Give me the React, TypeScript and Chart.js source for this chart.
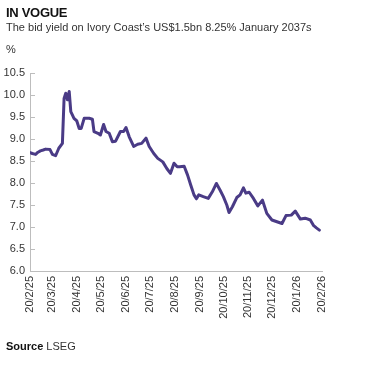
import React, { useEffect, useRef } from "react";
import { Chart, registerables } from "chart.js";

Chart.register(...registerables);

// days since 20 Feb 2025
const days = [
  0, 3, 7, 10, 13, 16.5, 19.6, 25, 28, 32, 36, 40.5, 42.6, 44.7, 46.8, 49, 51, 55, 58.5, 61.5, 64,
  67.7, 74, 78, 80, 85, 88, 92, 95, 99, 103, 107, 113, 117, 120, 124, 129.6, 134.6, 139.6, 145, 149,
  154.7, 159.7, 166, 171, 175.6, 180, 184, 187, 192.7, 197, 201, 205, 208, 211, 216.6, 222.8, 227.9,
  233, 237.5, 241.7, 246, 248.8, 253, 258.5, 262.6, 266.8, 269.8, 274, 279.3, 284.8, 290.6, 296,
  302.4, 308.7, 315, 320, 326.6, 331.6, 338, 344, 350.4, 354.6, 358, 361.7,
];
const yields = [
  8.69, 8.67, 8.65, 8.7, 8.73, 8.75, 8.77, 8.76, 8.65, 8.62, 8.79, 8.9, 9.92, 10.04, 9.89, 10.08,
  9.62, 9.47, 9.41, 9.24, 9.24, 9.47, 9.47, 9.45, 9.17, 9.13, 9.09, 9.33, 9.17, 9.13, 8.94, 8.95,
  9.17, 9.17, 9.26, 9.05, 8.83, 8.88, 8.9, 9.02, 8.83, 8.67, 8.56, 8.48, 8.33, 8.22, 8.45, 8.37, 8.37,
  8.38, 8.18, 7.95, 7.73, 7.64, 7.73, 7.69, 7.65, 7.8, 7.99, 7.84, 7.69, 7.5, 7.33, 7.46, 7.67, 7.73,
  7.89, 7.77, 7.79, 7.65, 7.48, 7.61, 7.31, 7.16, 7.12, 7.08, 7.26, 7.27, 7.36, 7.18, 7.2, 7.16, 7.03,
  6.98, 6.93,
];
const tickDays = [0, 28, 59, 89, 120, 150, 181, 212, 242, 273, 303, 334, 365];
const tickLabels = [
  "20/2/25", "20/3/25", "20/4/25", "20/5/25", "20/6/25", "20/7/25", "20/8/25",
  "20/9/25", "20/10/25", "20/11/25", "20/12/25", "20/1/26", "20/2/26",
];
const yTicks = [6.0, 6.5, 7.0, 7.5, 8.0, 8.5, 9.0, 9.5, 10.0, 10.5];

const FONT = "'Liberation Sans', Arial, sans-serif";
const LINE = "#4a3b86";
const AXIS = "#bdbdbd";
const TEXT = "#333333";

const innerTicks = {
  id: "innerTicks",
  afterDraw(chart: any) {
    const { ctx, chartArea } = chart;
    const y = chart.scales.y;
    ctx.save();
    ctx.strokeStyle = AXIS;
    ctx.lineWidth = 1;
    yTicks.forEach((v) => {
      const py = Math.round(y.getPixelForValue(v)) + 0.5;
      ctx.beginPath();
      ctx.moveTo(chartArea.left, py);
      ctx.lineTo(chartArea.left + 5, py);
      ctx.stroke();
    });
    ctx.restore();
  },
};

export default function App() {
  const ref = useRef<HTMLCanvasElement | null>(null);
  useEffect(() => {
    if (!ref.current) return;
    const chart = new Chart(ref.current, {
      type: "line",
      data: {
        datasets: [
          {
            data: days.map((d, i) => ({ x: d, y: yields[i] })),
            borderColor: LINE,
            borderWidth: 3,
            pointRadius: 0,
            tension: 0,
            borderJoinStyle: "round",
            borderCapStyle: "round",
          },
        ],
      },
      options: {
        animation: false,
        responsive: false,
        maintainAspectRatio: false,
        layout: { padding: { top: 73, right: 54, left: 0, bottom: 0 } },
        plugins: { legend: { display: false }, tooltip: { enabled: false } },
        scales: {
          x: {
            type: "linear",
            min: 0,
            max: 365,
            afterBuildTicks: (s: any) => {
              s.ticks = tickDays.map((v) => ({ value: v }));
            },
            afterFit: (s: any) => {
              s.height = 98;
            },
            ticks: {
              autoSkip: false,
              minRotation: 90,
              maxRotation: 90,
              padding: 5,
              color: TEXT,
              font: { family: FONT, size: 11 },
              callback: (v: any) => {
                const i = tickDays.indexOf(Number(v));
                return i >= 0 ? tickLabels[i] : "";
              },
            },
            grid: { display: false, drawTicks: false },
            border: { display: true, color: AXIS, width: 1 },
          },
          y: {
            type: "linear",
            min: 6,
            max: 10.5,
            afterBuildTicks: (s: any) => {
              s.ticks = yTicks.map((v) => ({ value: v }));
            },
            afterFit: (s: any) => {
              s.width = 30;
            },
            ticks: {
              padding: 5,
              color: TEXT,
              font: { family: FONT, size: 11 },
              callback: (v: any) => Number(v).toFixed(1),
            },
            grid: { display: false, drawTicks: false },
            border: { display: true, color: AXIS, width: 1 },
          },
        },
      },
      plugins: [innerTicks],
    });
    return () => chart.destroy();
  }, []);

  return (
    <div style={{ position: "fixed", left: 0, top: 0, width: 376, height: 369, background: "#fff", fontFamily: FONT }}>
      <canvas ref={ref} width={376} height={369} style={{ position: "absolute", left: 0, top: 0, width: 376, height: 369 }} />
      <div style={{ position: "absolute", left: 6, top: 5, fontSize: 13, fontWeight: 700, color: "#111", letterSpacing: -0.3 }}>IN VOGUE</div>
      <div style={{ position: "absolute", left: 6, top: 21, fontSize: 11, color: "#333" }}>
        The bid yield on Ivory Coast’s US$1.5bn 8.25% January 2037s
      </div>
      <div style={{ position: "absolute", left: 6, top: 43, fontSize: 11, color: "#333" }}>%</div>
      <div style={{ position: "absolute", left: 6, top: 340, fontSize: 11, color: "#333" }}>
        <span style={{ fontWeight: 700, color: "#111" }}>Source</span> LSEG
      </div>
    </div>
  );
}
